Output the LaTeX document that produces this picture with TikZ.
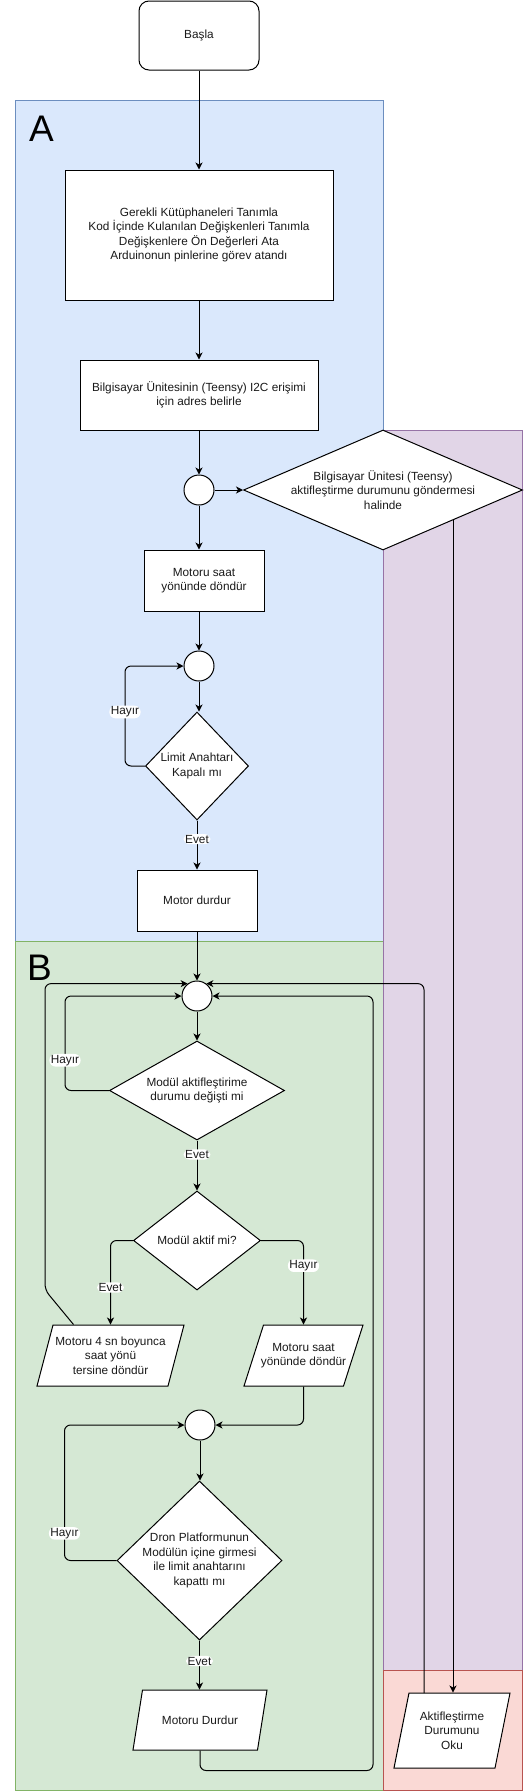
\documentclass[tikz,border=0pt]{standalone}
\usepackage{fontspec}
\setmainfont{Liberation Sans}
\usetikzlibrary{shapes.geometric,arrows.meta,calc}
\definecolor{aFill}{HTML}{DAE8FC}
\definecolor{aLine}{HTML}{6C8EBF}
\definecolor{bFill}{HTML}{D5E8D4}
\definecolor{bLine}{HTML}{82B366}
\definecolor{pFill}{HTML}{E1D5E7}
\definecolor{pLine}{HTML}{9673A6}
\definecolor{rFill}{HTML}{FAD9D5}
\definecolor{rLine}{HTML}{B85450}
\definecolor{txtc}{HTML}{1A1A1A}
\tikzset{
  txt/.style={font=\fontsize{11.8}{14.6}\selectfont, align=center, text=txtc},
  procbox/.style={draw, fill=white, rectangle, inner sep=0pt, txt},
  startbox/.style={procbox, rounded corners=10pt},
  junc/.style={draw, fill=white, circle, minimum size=30pt, inner sep=0pt},
  dec/.style={draw, fill=white, diamond, inner sep=0pt},
  paratext/.style={rectangle, inner sep=0pt, txt},
  arr/.style={-{Stealth[length=7pt,width=7pt,inset=2pt]}, rounded corners=6pt},
  lbl/.style={fill=white, inner xsep=1.5pt, inner ysep=1pt, font=\fontsize{11.8}{13}\selectfont, text=txtc},
  big/.style={font=\fontsize{37}{40}\selectfont}
}
% parallelogram outline: centre x, centre y, width, height, slant
\newcommand{\myparal}[5]{%
  \filldraw[fill=white] ({#1-#3/2+#5},{#2-#4/2}) -- ({#1+#3/2},{#2-#4/2})
    -- ({#1+#3/2-#5},{#2+#4/2}) -- ({#1-#3/2},{#2+#4/2}) -- cycle;}
\begin{document}
\begin{tikzpicture}[x=1pt,y=-1pt,line width=1pt]
\useasboundingbox (0,0) rectangle (526,1791);
% regions
\filldraw[fill=aFill, draw=aLine] (15,100) rectangle (383,941);
\filldraw[fill=bFill, draw=bLine] (15,941) rectangle (383,1790);
\filldraw[fill=pFill, draw=pLine] (383,430) rectangle (522,1670);
\filldraw[fill=rFill, draw=rLine] (383,1670) rectangle (522,1790);
\node[big, inner sep=0pt] (labA) at (41.5,128.5) {A};
\node[big, inner sep=0pt] (labB) at (39.5,968) {B};

% nodes
\node[startbox, minimum width=120pt, minimum height=69pt] (start) at (199,35.5) {Başla};
\node[procbox, minimum width=268pt, minimum height=130pt] (init) at (199,235)
  {Gerekli Kütüphaneleri Tanımla\\Kod İçinde Kulanılan Değişkenleri Tanımla\\Değişkenlere Ön Değerleri Ata\\Arduinonun pinlerine görev atandı};
\node[procbox, minimum width=238pt, minimum height=70pt] (addr) at (199,395)
  {Bilgisayar Ünitesinin (Teensy) I2C erişimi\\için adres belirle};
\node[junc] (c1) at (199,490) {};
\node[dec, minimum width=279pt, minimum height=120pt,
  label={[txt]center:{Bilgisayar Ünitesi (Teensy)\\aktifleştirme durumunu göndermesi\\halinde}}] (d1) at (383,490) {};
\node[procbox, minimum width=120pt, minimum height=61pt] (m1) at (204,580.5) {Motoru saat\\yönünde döndür};
\node[junc] (c2) at (199,666) {};
\node[dec, minimum width=103pt, minimum height=108pt,
  label={[txt]center:{Limit Anahtarı\\Kapalı mı}}] (d2) at (197,766) {};
\node[procbox, minimum width=120pt, minimum height=61pt] (m2) at (197,900.5) {Motor durdur};
\node[junc] (c3) at (197,996) {};
\node[dec, minimum width=175pt, minimum height=99pt,
  label={[txt]center:{Modül aktifleştirime\\durumu değişti mi}}] (d3) at (197,1090.5) {};
\node[dec, minimum width=127pt, minimum height=99pt,
  label={[txt]center:{Modül aktif mi?}}] (d4) at (197,1240.5) {};
\myparal{110.5}{1355.5}{147}{61}{16}
\node[paratext, minimum width=147pt, minimum height=61pt] (p1) at (110.5,1355.5)
  {Motoru 4 sn boyunca\\saat yönü\\tersine döndür};
\myparal{303.5}{1355.5}{119}{61}{19.5}
\node[paratext, minimum width=119pt, minimum height=61pt] (p2) at (303.5,1355.5)
  {Motoru saat\\yönünde döndür};
\node[junc] (c4) at (200,1425) {};
\node[dec, minimum width=165pt, minimum height=159pt,
  label={[txt]center:{Dron Platformunun\\Modülün içine girmesi\\ile limit anahtarını\\kapattı mı}}] (d5) at (199.5,1560.5) {};
\myparal{200}{1720}{134}{60}{9.5}
\node[paratext, minimum width=134pt, minimum height=60pt] (p3) at (200,1720) {Motoru Durdur};
\myparal{452}{1730.5}{116}{75}{15}
\node[paratext, minimum width=116pt, minimum height=75pt] (p4) at (452,1730.5)
  {Aktifleştirme\\Durumunu\\Oku};

% connectors
\draw[arr] (start) -- (init);
\draw[arr] (init) -- (addr);
\draw[arr] (addr) -- (c1);
\draw[arr] (c1) -- (d1);
\draw[arr] (c1) -- (c1 |- m1.north);
\draw[arr] (d1.south east) -- (d1.south east |- p4.north);
\draw[arr] (m1.south -| c2) -- (c2);
\draw[arr] (c2) -- (c2 |- d2.north);
\draw[arr] (d2.west) -- ++(-20,0) |- node[lbl,pos=0.27]{Hayır} (c2.west);
\draw[arr] (d2) -- node[lbl,pos=0.38]{Evet} (m2);
\draw[arr] (m2) -- (c3);
\draw[arr] (c3) -- (d3);
\draw[arr] (d3.west) -- ++(-44,0) |- node[lbl,pos=0.16]{Hayır} (c3.west);
\draw[arr] (d3) -- node[lbl,pos=0.28]{Evet} (d4);
\draw[arr] (d4.west) -| node[lbl,pos=0.78]{Evet} (p1.center |- p1.north);
\draw[arr] (d4.east) -| node[lbl,pos=0.65]{Hayır} (p2.center |- p2.north);
\coordinate (p1out) at ($(p1.north west)+(37,0)$);
\draw[arr] (p1out) -- (45,1290) |- (c3.127);
\draw[arr] (p3.south) -- ++(0,20) -| (373,1010) |- (c3.east);
\coordinate (p4out) at (424,1693);
\draw[arr] (p4out) |- (c3.53);
\draw[arr] (p2.south) |- (c4.east);
\draw[arr] (c4) -- (c4 |- d5.north);
\draw[arr] (d5.west) -- ++(-52,0) |- node[lbl,pos=0.1]{Hayır} (c4.west);
\draw[arr] (d5.south) -- node[lbl,pos=0.42]{Evet} (d5.south |- p3.north);
\end{tikzpicture}
\end{document}
